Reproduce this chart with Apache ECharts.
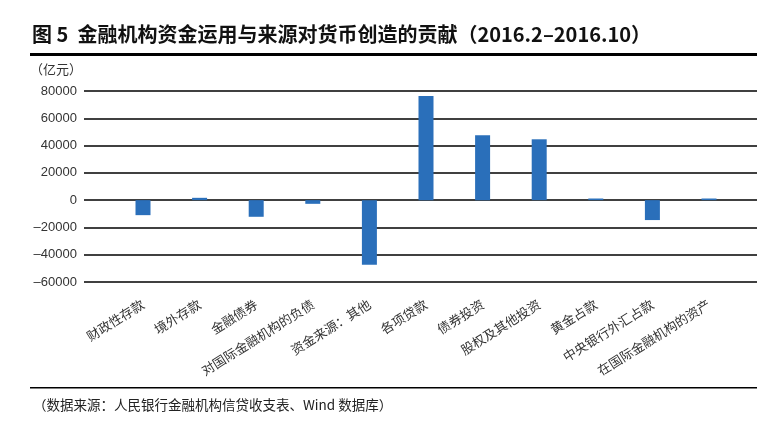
<!DOCTYPE html>
<html>
<head>
<meta charset="utf-8">
<script src="https://cdn.jsdelivr.net/npm/echarts@6/dist/echarts.min.js"></script>
<style>html,body{margin:0;padding:0;background:#fff}#c{width:771px;height:421px}</style>
</head>
<body>
<div id="c"></div>
<script>
const categories = ['财政性存款','境外存款','金融债券','对国际金融机构的负债','资金来源：其他','各项贷款','债券投资','股权及其他投资','黄金占款','中央银行外汇占款','在国际金融机构的资产'];
const values = [-11000, 1700, -12200, -2700, -47300, 76300, 47500, 44600, 1200, -14600, 1200];
const yMin = -60000, yMax = 80000, yStep = 20000;
const titleText = '图 5  金融机构资金运用与来源对货币创造的贡献（2016.2–2016.10）';
const unitText = '（亿元）';
const sourceText = '（数据来源：人民银行金融机构信贷收支表、Wind 数据库）';

const chart = echarts.init(document.getElementById('c'));
const gTop = 91, gBottom = 421 - 282;
chart.setOption({
  animation: false,
  title: {
    text: titleText, left: 27, top: 19,
    textStyle: {fontFamily: 'Noto Sans CJK SC', fontWeight: 'bold', fontSize: 20, color: '#111'}
  },
  graphic: [
    {type: 'rect', shape: {x: 30, y: 53, width: 727, height: 3}, style: {fill: '#000'}},
    {type: 'rect', shape: {x: 30, y: 387, width: 727, height: 1.5}, style: {fill: '#000'}},
    {type: 'text', left: 30, top: 63, style: {text: unitText, fontFamily: 'Noto Sans CJK SC', fontSize: 13, fill: '#333'}},
    {type: 'text', left: 33, top: 398, style: {text: sourceText, fontFamily: 'Noto Sans CJK SC', fontSize: 13.5, fill: '#222'}}
  ],
  grid: [
    {left: 84, right: 14, top: gTop, bottom: gBottom},
    {left: 114.7, right: 33.7, top: gTop, bottom: gBottom}
  ],
  xAxis: [
    {gridIndex: 0, type: 'value', show: false, min: 0, max: 1},
    {gridIndex: 1, type: 'category', data: categories,
     axisLine: {show: false}, axisTick: {show: false},
     axisLabel: {interval: 0, rotate: 32, margin: 21, fontSize: 13, color: '#333', fontFamily: 'Noto Sans CJK SC'}}
  ],
  yAxis: [
    {gridIndex: 0, type: 'value', min: yMin, max: yMax, interval: yStep,
     axisLine: {show: false}, axisTick: {show: false},
     axisLabel: {fontSize: 13, color: '#333', margin: 7, fontFamily: 'Liberation Sans',
       formatter: v => String(v).replace('-', '–')},
     splitLine: {lineStyle: {color: '#000', width: 1.5}}},
    {gridIndex: 1, type: 'value', min: yMin, max: yMax, interval: yStep, show: false, splitLine: {show: false}}
  ],
  series: [{
    type: 'bar', xAxisIndex: 1, yAxisIndex: 1, data: values, barWidth: 15, z: 5,
    itemStyle: {color: '#2a6fba'}
  }]
});
</script>
</body>
</html>
